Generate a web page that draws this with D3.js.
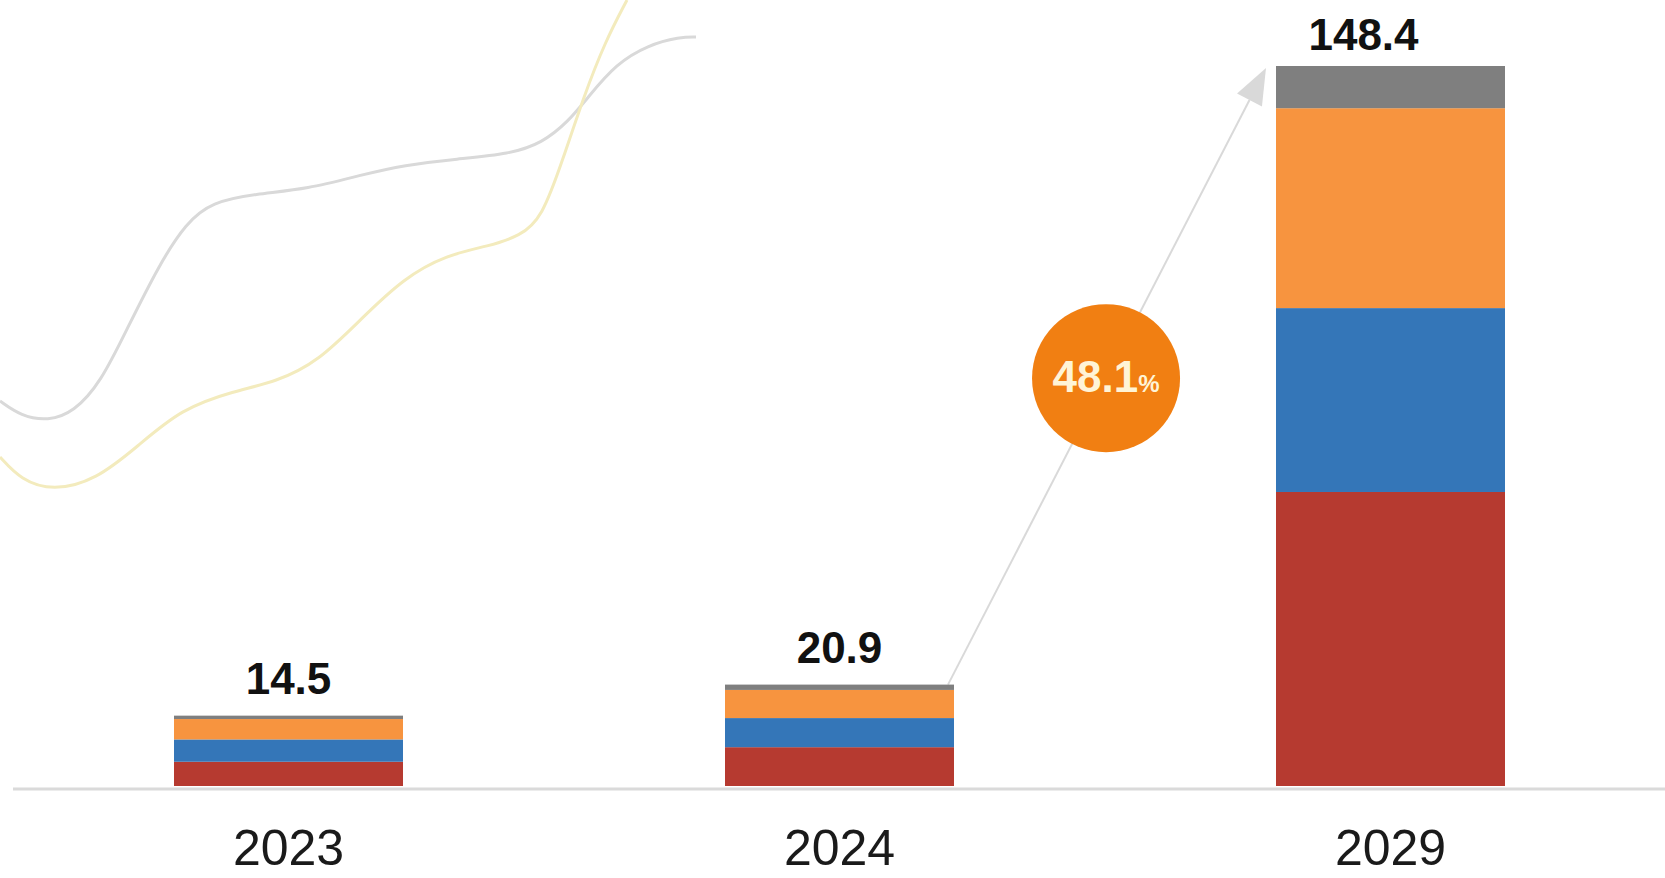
<!DOCTYPE html>
<html lang="en">
<head>
<meta charset="UTF-8">
<title>Stacked bars 2023 / 2024 / 2029</title>
<script src="https://d3js.org/d3.v7.min.js"></script>
<style>
  html, body { margin: 0; padding: 0; background: #fff; }
  svg { display: block; }
</style>
</head>
<body>
<svg id="chart" width="1665" height="878"></svg>
<script>
// chart data
var years = ["2023", "2024", "2029"];
var totals = [14.5, 20.9, 148.4];
var seriesNames = ["red", "blue", "orange", "gray"];   // bottom -> top
var redVals    = [5.0, 8.0, 60.6];
var blueVals   = [4.6, 6.0, 37.9];
var orangeVals = [4.2, 5.8, 41.2];
var grayVals   = [0.7, 1.1, 8.7];
var growthLabel = "48.1";
var colors = ["#b63a30", "#3476b8", "#f7943f", "#7f7f7f"];

var width = 1665, height = 878;
var baseY = 786, topY = 66;
var barWidth = 229;

var svg = d3.select("#chart");

// decorative wavy lines in the top-left corner (background only)
var grayWave = [[0,401],[21,416],[48,421],[74,412],[101,382],[127,329],[159,265],[186,223],[212,202],[255,194],[308,189],[361,175],[404,165],[457,159],[510,154],[542,143],[568,122],[589,96],[616,64],[648,45],[680,37],[696,37]];
var yellowWave = [[0,457],[21,480],[53,491],[96,480],[138,446],[181,409],[234,391],[276,382],[319,361],[361,319],[404,278],[446,255],[489,246],[520,236],[542,218],[563,159],[584,96],[605,42],[627,0]];
var waveLine = d3.line().curve(d3.curveBasis);
svg.append("path").attr("d", waveLine(grayWave))
  .attr("fill", "none").attr("stroke", "#d9d9d9").attr("stroke-width", 3);
svg.append("path").attr("d", waveLine(yellowWave))
  .attr("fill", "none").attr("stroke", "#f3ebbd").attr("stroke-width", 3);

// scales
var x = d3.scalePoint().domain(years).range([288.5, 1390.5]);
var y = d3.scaleLinear().domain([0, d3.max(totals)]).range([baseY, topY]);

// stacked data
var rows = years.map(function(yr, i) {
  return { year: yr, red: redVals[i], blue: blueVals[i], orange: orangeVals[i], gray: grayVals[i] };
});
var stack = d3.stack().keys(seriesNames)(rows);

// baseline
svg.append("line")
  .attr("x1", 13).attr("x2", width)
  .attr("y1", baseY + 3).attr("y2", baseY + 3)
  .attr("stroke", "#dadada").attr("stroke-width", 3);

// growth arrow from 2024 bar to 2029 bar
var ax1 = x("2024") + barWidth / 2 - 6, ay1 = y(totals[1]);
var ax2 = x("2029") - barWidth / 2 - 10, ay2 = y(totals[2]) + 2;
var ang = Math.atan2(ay2 - ay1, ax2 - ax1);
var headLen = 36, headHalf = 14;
var bx = ax2 - headLen * Math.cos(ang), by = ay2 - headLen * Math.sin(ang);
svg.append("line")
  .attr("x1", ax1).attr("y1", ay1).attr("x2", bx).attr("y2", by)
  .attr("stroke", "#d9d9d9").attr("stroke-width", 2);
svg.append("path")
  .attr("d", "M" + ax2 + "," + ay2 +
    "L" + (bx + headHalf * Math.sin(ang)) + "," + (by - headHalf * Math.cos(ang)) +
    "L" + (bx - headHalf * Math.sin(ang)) + "," + (by + headHalf * Math.cos(ang)) + "Z")
  .attr("fill", "#d9d9d9");

// bars
svg.selectAll("g.layer").data(stack).enter()
  .append("g").attr("class", "layer")
  .attr("fill", function(d, i) { return colors[i]; })
  .selectAll("rect").data(function(d) { return d; }).enter()
  .append("rect")
  .attr("x", function(d) { return x(d.data.year) - barWidth / 2; })
  .attr("y", function(d) { return y(d[1]); })
  .attr("width", barWidth)
  .attr("height", function(d) { return y(d[0]) - y(d[1]); });

// total labels
svg.selectAll("text.total").data(totals).enter()
  .append("text").attr("class", "total")
  .attr("x", function(d, i) { return x(years[i]) + (i === 2 ? -27 : 0); })
  .attr("y", function(d, i) { return y(d) - (i === 2 ? 16 : 22); })
  .attr("text-anchor", "middle")
  .attr("font-family", "Liberation Sans, Arial, sans-serif")
  .attr("font-weight", "bold")
  .attr("font-size", 44)
  .attr("fill", "#111")
  .text(function(d) { return d.toFixed(1); });

// year axis labels
svg.selectAll("text.year").data(years).enter()
  .append("text").attr("class", "year")
  .attr("x", function(d) { return x(d); })
  .attr("y", 865)
  .attr("text-anchor", "middle")
  .attr("font-family", "Liberation Sans, Arial, sans-serif")
  .attr("font-size", 50)
  .attr("fill", "#1a1a1a")
  .text(function(d) { return d; });

// CAGR bubble on the arrow
var cx = ax1 + (ax2 - ax1) * 0.497, cy = ay1 + (ay2 - ay1) * 0.497;
svg.append("circle").attr("cx", cx).attr("cy", cy).attr("r", 74).attr("fill", "#f17f12");
var t = svg.append("text")
  .attr("x", cx).attr("y", cy + 14)
  .attr("text-anchor", "middle")
  .attr("font-family", "Liberation Sans, Arial, sans-serif")
  .attr("font-weight", "bold")
  .attr("fill", "#fff4d6");
t.append("tspan").attr("font-size", 44).text(growthLabel);
t.append("tspan").attr("font-size", 24).text("%");
</script>
</body>
</html>
